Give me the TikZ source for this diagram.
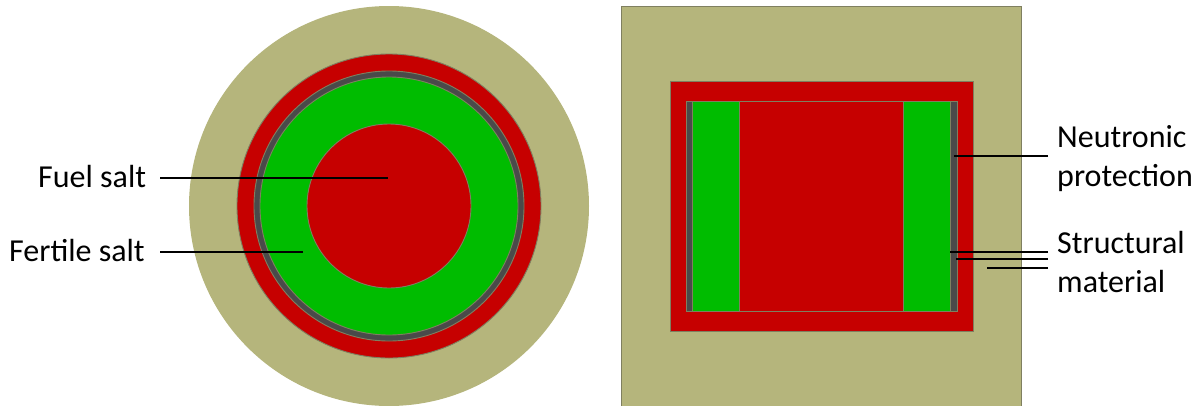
\documentclass[tikz,border=0pt]{standalone}
\usepackage{fontspec}
\setmainfont{Carlito}
\definecolor{tan}{HTML}{B5B57C}
\definecolor{redsalt}{HTML}{C60000}
\definecolor{greensalt}{HTML}{00BC00}
\definecolor{graymat}{HTML}{4A4A4A}
\definecolor{edgec}{HTML}{7F7F60}
\tikzset{
  part/.style={draw=edgec,line width=0.9pt},
  lbl/.style={font=\fontsize{32}{39}\selectfont,text=black,inner sep=0pt,align=left},
  lead/.style={draw=black,line width=2.6pt}
}
\begin{document}
\begin{tikzpicture}[x=1pt,y=-1pt]
\useasboundingbox (0,0) rectangle (1200,405);
% left: cross section (clipped at the picture's lower edge)
\begin{scope}
\clip (0,0) rectangle (1200,405);
\fill[tan] (389,206) circle[radius=200];
\filldraw[part,fill=redsalt] (389,206) circle[radius=152];
\filldraw[part,fill=graymat] (389,206) circle[radius=135];
\filldraw[part,fill=greensalt] (389,206) circle[radius=129];
\filldraw[part,fill=redsalt] (389,206) circle[radius=82];
% right: longitudinal section
\filldraw[part,fill=tan] (621,6.5) rectangle (1021.5,410);
\filldraw[part,fill=redsalt] (670,81) rectangle (973,331);
\filldraw[part,fill=graymat] (686.5,101.5) rectangle (957,311.5);
\filldraw[part,fill=greensalt] (692.5,101.5) rectangle (950.5,311.5);
\filldraw[part,fill=redsalt] (739.5,101.5) rectangle (903,311.5);
\end{scope}
% labels
\node[lbl,anchor=west] (fuel) at (38,177) {Fuel salt};
\node[lbl,anchor=west] (fertile) at (9,251) {Fertile salt};
\node[lbl,anchor=west] (neutronic) at (1057,158.5) {Neutronic\\protection};
\node[lbl,anchor=west] (structural) at (1057,262) {Structural\\material};
% leader ends
\coordinate (fuelS) at (160,178);
\coordinate (fuelE) at (388,178);
\coordinate (fertS) at (160,252);
\coordinate (fertE) at (303,252);
\coordinate (neuS) at (1048,156);
\coordinate (neuE) at (954,156);
\coordinate (s1S) at (1048,252);
\coordinate (s1E) at (950,252);
\coordinate (s2S) at (1048,259);
\coordinate (s2E) at (956,259);
\coordinate (s3S) at (1048,268);
\coordinate (s3E) at (987,268);
\draw[lead] (fuelS) -- (fuelE);
\draw[lead] (fertS) -- (fertE);
\draw[lead] (neuS) -- (neuE);
\draw[lead] (s1S) -- (s1E);
\draw[lead] (s2S) -- (s2E);
\draw[lead] (s3S) -- (s3E);
\end{tikzpicture}
\end{document}
